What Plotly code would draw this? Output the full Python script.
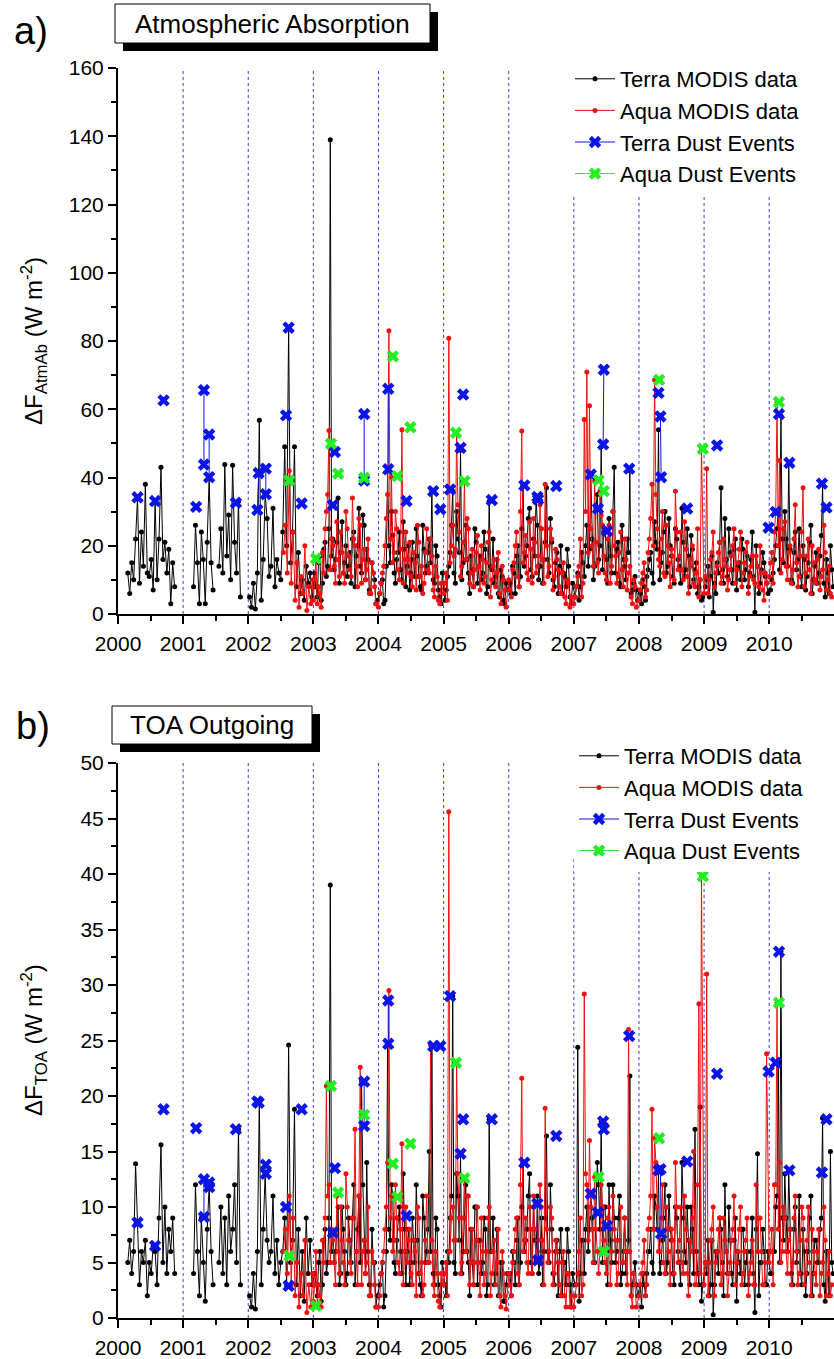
import plotly.graph_objects as go

# ---------------- DATA ----------------
# Terra observation dates (decimal years) for the early, gappy record
terra_early_dates = [
    [2000.15, 2000.18, 2000.21, 2000.24, 2000.27, 2000.30, 2000.33, 2000.36, 2000.39, 2000.42, 2000.45, 2000.48,
     2000.51, 2000.54, 2000.57, 2000.60, 2000.63, 2000.66, 2000.69, 2000.72, 2000.75, 2000.78, 2000.81, 2000.84, 2000.87],
    [2001.16, 2001.19, 2001.22, 2001.25, 2001.28, 2001.31, 2001.34, 2001.37, 2001.40, 2001.43, 2001.46],
    [2001.55, 2001.58, 2001.61, 2001.64, 2001.67, 2001.70, 2001.73, 2001.76, 2001.79, 2001.82, 2001.85, 2001.88],
    [2002.02, 2002.05, 2002.08, 2002.11, 2002.14, 2002.17, 2002.20, 2002.23, 2002.26, 2002.29, 2002.32, 2002.35,
     2002.38, 2002.41, 2002.44, 2002.47, 2002.50, 2002.53, 2002.56, 2002.59, 2002.62, 2002.65, 2002.68, 2002.71,
     2002.74, 2002.77, 2002.80, 2002.83, 2002.86, 2002.89, 2002.92, 2002.95, 2002.98],
]
later_years = [2003, 2004, 2005, 2006, 2007, 2008, 2009, 2010]
# sampling dates within each later year (fraction of year)
terra_day_offsets = [0.02, 0.06, 0.10, 0.14, 0.18, 0.22, 0.26, 0.30, 0.34, 0.38, 0.42, 0.46, 0.50,
                     0.54, 0.58, 0.62, 0.66, 0.70, 0.74, 0.78, 0.82, 0.86, 0.90, 0.94, 0.98]
terra_extra_offsets = [0.04, 0.08, 0.12, 0.16, 0.20, 0.24, 0.28, 0.32, 0.36, 0.40, 0.44, 0.48,
                       0.52, 0.56, 0.60, 0.64, 0.68, 0.72, 0.76, 0.80, 0.84, 0.88, 0.92, 0.96]
aqua_first_dates = [2002.54, 2002.57, 2002.60, 2002.63, 2002.66, 2002.69, 2002.72, 2002.75,
                    2002.78, 2002.81, 2002.84, 2002.87, 2002.90, 2002.93, 2002.96, 2002.99]
aqua_day_offsets = [0.00, 0.04, 0.08, 0.12, 0.16, 0.20, 0.24, 0.28, 0.32, 0.36, 0.40, 0.44, 0.48,
                    0.52, 0.56, 0.60, 0.64, 0.68, 0.72, 0.76, 0.80, 0.84, 0.88, 0.92, 0.96]
aqua_extra_offsets = [0.02, 0.06, 0.10, 0.14, 0.18, 0.22, 0.26, 0.30, 0.34, 0.38, 0.42, 0.46,
                      0.50, 0.54, 0.58, 0.62, 0.66, 0.70, 0.74, 0.78, 0.82, 0.86, 0.90, 0.94]

# Panel a: Atmospheric absorption (W m-2)
terra_atm = [
    [12, 6, 15, 10, 22, 34, 9, 24, 14, 38, 12, 11, 16, 7, 33, 10, 22, 43, 16, 21, 12, 19, 3, 15, 8],
    [8, 26, 15, 3, 24, 16, 3, 21, 40, 15, 7],
    [14, 25, 12, 43.8, 17, 29, 10, 43.6, 21, 12, 33, 5],
    [5, 2, 9, 1.5, 12, 56.8, 4, 16, 35, 28, 11, 14, 31, 8, 16, 12, 10, 24, 49, 20, 84, 15, 24, 49, 8, 18, 6, 10, 4, 14, 9, 12, 5],
    [12, 5, 17, 9, 21, 14, 139, 22, 16, 34, 18, 12, 20, 14, 9, 24, 17, 31, 12, 26, 19, 7, 15, 10, 4],
    [6, 10, 4, 42, 15, 23, 9, 18, 13, 27, 8, 20, 12, 16, 25, 11, 7, 19, 14, 22, 36, 9, 17, 5, 12],
    [4, 11, 18, 36, 9, 22, 48, 15, 26, 12, 17, 8, 21, 14, 10, 24, 6, 33, 13, 9, 16, 5, 11, 3, 7],
    [9, 14, 6, 20, 11, 37.7, 17, 28, 13, 22, 34, 10, 25, 16, 37, 12, 21, 8, 18, 14, 6, 11, 19, 5, 9],
    [5, 12, 8, 15, 20, 14, 41, 10, 31, 16, 49, 24, 16, 28, 12, 43, 19, 9, 26, 14, 22, 42, 7, 11, 4],
    [6, 10, 4, 13, 18, 9, 21, 54, 15, 24, 12, 28, 17, 9, 22, 14, 31, 11, 25, 8, 19, 13, 6, 10, 5],
    [8, 14, 11, 0.5, 6, 12, 37, 9, 16, 25, 13, 19, 7, 15, 22, 10, 17, 12, 24, 0.5, 14, 9, 18, 11, 6],
    [7, 12, 20, 30, 58, 15, 22, 44, 10, 18, 13, 25, 8, 16, 11, 21, 6, 14, 9, 17, 38, 5, 12, 20, 8],
]
terra_atm_extra = [
    [8, 15, 4, 19, 11, 25, 17, 13, 21, 9, 27, 15, 11, 18, 22, 8, 20, 14, 29, 10, 16, 6, 12, 3],
    [9, 3, 14, 20, 30, 12, 16, 24, 10, 19, 14, 7, 21, 11, 17, 8, 26, 12, 18, 15, 10, 20, 7, 3],
    [7, 14, 26, 12, 30, 18, 10, 21, 16, 6, 13, 25, 9, 17, 12, 19, 8, 14, 22, 11, 6, 13, 4, 9],
    [6, 12, 17, 8, 25, 14, 20, 31, 11, 17, 26, 14, 9, 21, 16, 28, 10, 15, 6, 20, 12, 8, 14, 3],
    [8, 4, 18, 11, 26, 19, 22, 14, 35, 20, 13, 25, 9, 17, 30, 12, 21, 8, 16, 10, 18, 6, 9, 7],
    [3, 8, 11, 16, 12, 27, 19, 10, 18, 30, 14, 20, 11, 25, 16, 9, 21, 13, 17, 23, 10, 15, 8, 4],
    [10, 5, 17, 9, 15, 21, 13, 28, 11, 18, 9, 22, 14, 10, 19, 13, 8, 16, 11, 20, 6, 13, 15, 9],
    [10, 16, 25, 13, 22, 30, 14, 19, 9, 24, 16, 11, 20, 7, 15, 26, 10, 18, 12, 23, 9, 16, 6, 13],
]
aqua_atm = [
    [18, 26, 12, 42, 9, 24, 4, 15, 2, 11, 6, 20, 1, 8, 3, 10],
    [4, 16, 8, 2, 12, 30, 53.8, 22, 14, 27, 11, 18, 9, 25, 13, 34, 20, 8, 26, 16, 10, 22, 6, 12, 3],
    [2, 9, 14, 28, 83, 40, 18, 25, 10, 54, 16, 12, 21, 8, 15, 26, 11, 6, 18, 13, 22, 7, 14, 4, 9],
    [6, 12, 80.8, 20, 17, 53, 24, 14, 39, 28, 9, 19, 13, 23, 7, 16, 11, 21, 5, 14, 8, 18, 3, 10, 2],
    [10, 5, 15, 24, 8, 53.6, 18, 12, 27, 9, 21, 14, 32, 16, 38, 11, 25, 7, 19, 13, 6, 15, 3, 9, 5],
    [3, 8, 14, 5, 57, 70.9, 61, 20, 39, 15, 36, 26, 12, 22, 9, 30, 17, 11, 24, 8, 16, 12, 5, 10, 2],
    [4, 9, 15, 7, 22, 38, 68.6, 25, 14, 30, 11, 20, 8, 17, 36, 13, 24, 10, 19, 6, 14, 9, 12, 5, 48.4],
    [6, 42.6, 10, 18, 8, 14, 21, 11, 16, 7, 13, 20, 9, 15, 24, 12, 18, 6, 14, 10, 17, 8, 12, 4, 9],
    [11, 18, 24, 62, 45, 16, 27, 10, 20, 13, 32, 8, 17, 37, 12, 22, 6, 15, 9, 19, 11, 26, 7, 14, 5],
]
aqua_atm_extra = [
    [10, 3, 6, 18, 25, 35, 13, 20, 9, 16, 24, 12, 30, 17, 11, 22, 14, 28, 9, 19, 13, 6, 15, 8],
    [6, 12, 20, 35, 22, 15, 30, 13, 19, 9, 24, 16, 11, 18, 7, 21, 14, 9, 25, 12, 17, 5, 11, 3],
    [9, 4, 15, 26, 19, 32, 11, 21, 16, 25, 12, 8, 18, 14, 20, 9, 15, 24, 10, 16, 12, 6, 14, 7],
    [7, 13, 20, 11, 30, 15, 23, 10, 19, 28, 12, 17, 25, 9, 20, 14, 22, 11, 16, 8, 12, 5, 10, 2],
    [5, 11, 22, 9, 30, 18, 25, 14, 21, 12, 29, 17, 10, 26, 14, 20, 9, 18, 13, 22, 7, 14, 3, 8],
    [7, 12, 5, 18, 28, 20, 35, 16, 22, 12, 26, 15, 19, 10, 24, 17, 13, 27, 11, 16, 20, 8, 25, 10],
    [11, 6, 16, 24, 12, 18, 9, 22, 14, 10, 17, 25, 13, 19, 8, 15, 21, 11, 17, 9, 14, 20, 7, 12],
    [15, 9, 30, 20, 12, 25, 14, 18, 9, 22, 15, 11, 24, 8, 17, 13, 20, 10, 16, 7, 13, 18, 10, 6],
]

# Panel b: TOA outgoing (W m-2)
terra_toa = [
    [5, 7, 4, 6, 13.9, 8.6, 3, 6, 5, 7, 2, 5, 4, 6.5, 6, 3, 9, 15.6, 5, 10, 4, 8, 6, 9, 4],
    [4, 12, 6, 2, 9, 5, 1.5, 8, 12, 6, 3],
    [5, 10, 4, 9, 3, 11, 6, 8, 12, 5, 17, 3],
    [2, 1, 4, 0.8, 6, 19.5, 3, 8, 13, 7, 5, 6, 11, 4, 7, 3, 5, 6, 9, 2.9, 24.6, 5, 7, 18.8, 3, 8, 2, 6, 1.5, 9, 4, 7, 3],
    [4, 2, 6, 3, 8, 5, 39, 7.7, 6, 10, 4, 8, 3, 9, 5, 12, 6, 11, 21.3, 7, 14, 3, 8, 5, 2],
    [3, 5, 2, 24.7, 7, 11, 4, 9, 6, 13, 3, 8, 5, 7, 12, 4, 2, 9, 6, 15, 24.5, 3, 8, 2, 5],
    [3, 6, 9, 29, 4, 11, 14.8, 6, 12, 5, 8, 3, 10, 7, 4, 9, 2, 17.9, 6, 3, 8, 2, 5, 1.5, 4],
    [4, 6, 3, 9, 5, 14, 7, 11, 5, 10, 5.2, 4, 9, 6, 16.4, 5, 8, 3, 7, 6, 2, 5, 8, 3, 4],
    [3, 24.4, 4, 7, 8, 6, 11.2, 5, 9.5, 12, 17.7, 10, 6, 12, 5, 9, 6, 11, 4, 9, 6, 21.8, 3, 5, 2],
    [3, 4, 2, 6, 8, 4, 10, 13.3, 5, 9, 4, 11, 7, 3, 9, 5, 14, 6, 10, 3, 8, 17, 4, 19, 3],
    [5, 7, 3, 0.3, 6, 4, 8, 2, 6, 10, 4, 7, 1.5, 5, 8, 3, 6, 4, 9, 0.5, 14.8, 5, 8, 3, 6],
    [4, 6, 10, 23, 33, 7, 9, 13.3, 4, 8, 5, 11, 3, 6, 4, 9, 2, 7, 5, 8, 18, 1.5, 6, 15, 4],
]
terra_toa_extra = [
    [3, 5, 1.5, 7, 4, 9, 6, 5, 8, 3, 10, 6, 4, 7, 9, 3, 8, 5, 12, 4, 6, 2, 5, 1],
    [4, 1, 6, 8, 12, 5, 7, 10, 4, 8, 6, 3, 9, 5, 7, 3, 11, 5, 8, 6, 4, 9, 3, 1],
    [2, 5, 11, 5, 13, 7, 4, 9, 6, 2, 5, 10, 3, 7, 5, 8, 3, 6, 9, 4, 2, 5, 1.5, 3],
    [2, 5, 7, 3, 10, 6, 8, 13, 4, 7, 11, 5, 3, 9, 6, 12, 4, 6, 2, 8, 5, 3, 6, 1],
    [3, 1.5, 7, 4, 10, 8, 9, 5, 14, 8, 5, 10, 3, 7, 12, 5, 9, 3, 6, 4, 7, 2, 4, 3],
    [1, 3, 4, 6, 5, 11, 8, 4, 7, 12, 5, 8, 4, 10, 6, 3, 9, 5, 7, 10, 4, 6, 3, 1.5],
    [4, 2, 7, 3, 6, 9, 5, 12, 4, 7, 3, 9, 6, 4, 8, 5, 3, 6, 4, 8, 2, 5, 6, 3],
    [4, 6, 11, 5, 9, 13, 6, 8, 3, 10, 6, 4, 8, 2, 6, 11, 4, 7, 5, 9, 3, 6, 2, 5],
]
aqua_toa = [
    [6, 8, 4, 11, 3, 9, 2, 5, 1, 4, 2, 7, 0.5, 3, 1, 4],
    [1.5, 6, 3, 1, 5, 20.9, 12, 8, 5, 11, 4, 7, 3, 10, 5, 9, 17, 3, 22.6, 6, 4, 10, 2, 5, 1],
    [1, 4, 6, 10, 29.5, 11, 7, 9, 4, 15.7, 6, 5, 8, 3, 6, 10, 4, 2, 7, 5, 24.6, 3, 6, 1.5, 4],
    [3, 5, 45.6, 9, 7, 23, 9, 5, 12.6, 11, 3, 8, 5, 10, 2, 6, 4, 9, 2, 6, 3, 8, 1, 4, 0.8],
    [4, 2, 6, 9, 3, 21.6, 7, 5, 10, 4, 8, 6, 12, 7, 18.9, 5, 10, 3, 7, 5, 2, 6, 1, 4, 2],
    [1, 3, 6, 2, 29.2, 12, 16, 8, 12.7, 6, 6.0, 10, 5, 9, 3, 11, 7, 4, 10, 5, 6, 26, 2, 4, 1],
    [2, 4, 7, 3, 9, 18.8, 16.2, 10, 6, 12, 4, 8, 3, 7, 14, 5, 10, 4, 8, 2, 6, 15, 3, 28.3, 39.8],
    [3, 31, 5, 8, 2, 6, 9, 4, 7, 2, 5, 8, 3, 6, 10, 4, 7, 2, 5, 3, 12, 9, 6, 3, 23.8],
    [5, 8, 12, 28.4, 14, 6, 9, 4, 8, 5, 11, 3, 7, 9, 4, 10, 2, 6, 3, 8, 4, 10, 2, 6, 3],
]
aqua_toa_extra = [
    [3, 1, 2, 7, 9, 11, 5, 7, 3, 6, 10, 5, 13, 7, 4, 9, 6, 11, 3, 7, 5, 2, 6, 3],
    [2, 5, 8, 14, 9, 6, 12, 5, 8, 3, 10, 7, 4, 7, 2, 9, 5, 3, 11, 5, 7, 2, 4, 1],
    [4, 2, 6, 10, 7, 13, 4, 9, 6, 11, 5, 3, 7, 5, 9, 3, 6, 10, 4, 7, 5, 2, 6, 2],
    [3, 5, 8, 4, 12, 6, 9, 4, 8, 11, 5, 7, 10, 3, 8, 6, 9, 4, 6, 3, 5, 2, 4, 1],
    [2, 4, 9, 3, 13, 7, 10, 5, 8, 4, 12, 7, 4, 10, 6, 8, 3, 7, 5, 9, 3, 6, 1, 3],
    [3, 5, 2, 8, 11, 8, 14, 6, 9, 5, 10, 6, 8, 4, 10, 7, 5, 11, 4, 7, 9, 3, 12, 4],
    [5, 2, 7, 10, 5, 8, 3, 9, 6, 4, 7, 11, 5, 8, 3, 6, 9, 4, 7, 3, 6, 9, 3, 5],
    [6, 3, 12, 8, 5, 10, 6, 7, 3, 9, 6, 4, 10, 3, 7, 5, 8, 4, 6, 2, 5, 7, 4, 2],
]

# Dust events
terra_event_dates = [2000.30, 2000.57, 2000.70, 2001.20, 2001.32, 2001.32, 2001.40, 2001.40, 2001.81,
                     2002.14, 2002.16, 2002.27, 2002.27, 2002.58, 2002.62, 2002.82, 2003.30, 2003.33,
                     2003.78, 2003.78, 2004.15, 2004.15, 2004.43, 2004.84, 2004.95, 2005.10, 2005.26,
                     2005.30, 2005.74, 2006.24, 2006.44, 2006.45, 2006.73, 2007.26, 2007.37, 2007.45,
                     2007.46, 2007.51, 2007.85, 2008.30, 2008.33, 2008.34, 2008.74, 2009.20, 2009.99,
                     2010.10, 2010.15, 2010.31, 2010.81, 2010.88]
terra_event_atm = [34.2, 33.1, 62.6, 31.4, 65.6, 43.8, 52.6, 40.1, 32.6,
                   30.5, 41.3, 42.6, 35.1, 58.2, 83.9, 32.4, 31.9, 47.5,
                   58.6, 39.1, 66.0, 42.4, 33.1, 36.0, 30.7, 36.5, 48.7,
                   64.3, 33.4, 37.7, 34.3, 33.6, 37.5, 40.9, 30.9, 49.7,
                   71.6, 24.3, 42.6, 64.8, 57.9, 40.1, 30.9, 49.4, 25.3,
                   29.9, 58.6, 44.3, 38.2, 31.2]
terra_event_toa = [8.6, 6.5, 18.8, 17.1, 9.1, 12.5, 11.8, 12.2, 17.0,
                   19.5, 19.4, 13.0, 13.8, 10.0, 2.9, 18.8, 7.7, 13.5,
                   21.3, 17.3, 28.6, 24.7, 9.2, 24.5, 24.5, 29.0, 14.8,
                   17.9, 17.9, 14.0, 10.3, 5.2, 16.4, 11.2, 9.5, 17.7,
                   17.0, 8.3, 25.4, 13.3, 13.4, 7.6, 14.1, 22.0, 22.2,
                   23.0, 33.0, 13.3, 13.1, 17.9]
aqua_event_dates = [2002.63, 2003.04, 2003.27, 2003.38, 2003.78, 2004.22, 2004.29, 2004.49,
                    2005.19, 2005.32, 2007.38, 2007.46, 2008.31, 2008.98, 2010.15]
aqua_event_atm = [39.1, 16.2, 49.9, 41.1, 39.9, 75.5, 40.4, 54.7, 53.1, 38.9, 39.2, 36.0, 68.6, 48.4, 62.1]
aqua_event_toa = [5.6, 1.1, 20.9, 11.3, 18.3, 13.9, 10.9, 15.7, 23.0, 12.6, 12.7, 6.0, 16.2, 39.8, 28.4]

year_lines = [2001, 2002, 2003, 2004, 2005, 2006, 2007, 2008, 2009, 2010]


# ---------------- BUILD SERIES ----------------
def merge_years(main_vals, main_offsets, extra_vals, extra_offsets):
    xs, ys = [], []
    for yr, mv, ev in zip(later_years, main_vals, extra_vals):
        assert len(mv) == len(main_offsets), (yr, len(mv))
        assert len(ev) == len(extra_offsets), (yr, len(ev))
        pts = [(round(yr + o, 3), v) for o, v in zip(main_offsets, mv)]
        pts += [(round(yr + o, 3), v) for o, v in zip(extra_offsets, ev)]
        pts.sort()
        xs += [p[0] for p in pts]
        ys += [p[1] for p in pts]
    return xs, ys


def build_terra(values, extra):
    xs, ys = [], []
    for i, (d, v) in enumerate(zip(terra_early_dates, values[:4])):
        assert len(d) == len(v), (i, len(d), len(v))
        xs += list(d)
        ys += list(v)
        if i < 3:  # seasonal gaps in the early Terra record
            xs.append(None)
            ys.append(None)
    lx, ly = merge_years(values[4:], terra_day_offsets, extra, terra_extra_offsets)
    return xs + lx, ys + ly


def build_aqua(values, extra):
    assert len(values[0]) == len(aqua_first_dates)
    lx, ly = merge_years(values[1:], aqua_day_offsets, extra, aqua_extra_offsets)
    return list(aqua_first_dates) + lx, list(values[0]) + ly


def events(dates, vals, gap=0.02):
    xs, ys = [], []
    prev = None
    for d, v in zip(dates, vals):
        if prev is not None and d - prev > gap:
            xs.append(None)
            ys.append(None)
        xs.append(d)
        ys.append(v)
        prev = d
    return xs, ys


FONT = "Liberation Sans, Arial, sans-serif"
W, H = 834, 1359
TERRA_C, AQUA_C, TEV_C, AEV_C = "black", "#ee1111", "#0a14e6", "#22ee22"

fig = go.Figure()

panels = [
    dict(xa="x", ya="y", legend="legend", t=terra_atm, te_x=terra_atm_extra, a=aqua_atm, ae_x=aqua_atm_extra,
         te=terra_event_atm, ae=aqua_event_atm),
    dict(xa="x2", ya="y2", legend="legend2", t=terra_toa, te_x=terra_toa_extra, a=aqua_toa, ae_x=aqua_toa_extra,
         te=terra_event_toa, ae=aqua_event_toa),
]
for p in panels:
    tx, ty = build_terra(p["t"], p["te_x"])
    ax_, ay_ = build_aqua(p["a"], p["ae_x"])
    tex, tey = events(terra_event_dates, p["te"])
    aex, aey = events(aqua_event_dates, p["ae"])
    common = dict(xaxis=p["xa"], yaxis=p["ya"], legend=p["legend"], connectgaps=False)
    fig.add_trace(go.Scatter(x=tx, y=ty, mode="lines+markers", name="Terra MODIS data",
                             line=dict(color=TERRA_C, width=1), marker=dict(color=TERRA_C, size=5), **common))
    fig.add_trace(go.Scatter(x=ax_, y=ay_, mode="lines+markers", name="Aqua MODIS data",
                             line=dict(color=AQUA_C, width=1), marker=dict(color=AQUA_C, size=5), **common))
    fig.add_trace(go.Scatter(x=tex, y=tey, mode="lines+markers", name="Terra Dust Events",
                             line=dict(color=TEV_C, width=1),
                             marker=dict(color=TEV_C, size=11, symbol="x"), **common))
    fig.add_trace(go.Scatter(x=aex, y=aey, mode="lines+markers", name="Aqua Dust Events",
                             line=dict(color=AEV_C, width=1),
                             marker=dict(color=AEV_C, size=11, symbol="x"), **common))


def px(x):
    return x / W


def py(y):
    return 1 - y / H


axis_common = dict(showline=True, linecolor="black", linewidth=2, ticks="outside", ticklen=8,
                   tickwidth=2, tickcolor="black", showgrid=False, zeroline=False, automargin=False,
                   tickfont=dict(family=FONT, size=21, color="black"))

xcommon = dict(axis_common, range=[2000, 2010.995], tickmode="linear", tick0=2000, dtick=1,
               minor=dict(tick0=2000, dtick=0.5, ticks="outside", ticklen=5, tickwidth=2, tickcolor="black"),
               domain=[px(118), 1.0], ticklabelstandoff=2)

fig.update_layout(
    width=W, height=H, margin=dict(l=0, r=0, t=0, b=0, autoexpand=False),
    paper_bgcolor="white", plot_bgcolor="white",
    font=dict(family=FONT, color="black"),
    xaxis=dict(xcommon, anchor="y"),
    xaxis2=dict(xcommon, anchor="y2"),
    yaxis=dict(axis_common, anchor="x", range=[0, 160], dtick=20, domain=[py(614), py(68)],
               minor=dict(dtick=10, ticks="outside", ticklen=5, tickwidth=2, tickcolor="black")),
    yaxis2=dict(axis_common, anchor="x2", range=[0, 50], dtick=5, domain=[py(1318), py(763)],
                minor=dict(dtick=2.5, ticks="outside", ticklen=5, tickwidth=2, tickcolor="black")),
    legend=dict(x=px(570), y=py(58), xanchor="left", yanchor="top", bgcolor="white",
                font=dict(family=FONT, size=22, color="black"), tracegroupgap=0, itemwidth=40),
    legend2=dict(x=px(574), y=py(735), xanchor="left", yanchor="top", bgcolor="white",
                 font=dict(family=FONT, size=22, color="black"), tracegroupgap=0, itemwidth=40),
)

shapes = []
for yr in year_lines:
    top_a = 160 if yr < 2007 else 125
    top_b = 50 if yr < 2007 else 41.5
    shapes.append(dict(type="line", xref="x", yref="y", x0=yr, x1=yr, y0=0, y1=top_a,
                       line=dict(color="#3c3cc8", width=1, dash="dot"), layer="below"))
    shapes.append(dict(type="line", xref="x2", yref="y2", x0=yr, x1=yr, y0=0, y1=top_b,
                       line=dict(color="#3c3cc8", width=1, dash="dot"), layer="below"))

boxes = [(115, 4, 430, 43, "Atmospheric Absorption"), (112, 706, 312, 744, "TOA Outgoing")]
annotations = []
for (x0, y0, x1, y1, txt) in boxes:
    shapes.append(dict(type="rect", xref="paper", yref="paper", x0=px(x0 + 8), x1=px(x1 + 8),
                       y0=py(y1 + 8), y1=py(y0 + 8), fillcolor="black", line=dict(width=0)))
    shapes.append(dict(type="rect", xref="paper", yref="paper", x0=px(x0), x1=px(x1),
                       y0=py(y1), y1=py(y0), fillcolor="white", line=dict(color="black", width=1)))
    annotations.append(dict(xref="paper", yref="paper", x=px((x0 + x1) / 2), y=py((y0 + y1) / 2),
                            text=txt, showarrow=False, xanchor="center", yanchor="middle",
                            font=dict(family=FONT, size=26, color="black")))

annotations += [
    dict(xref="paper", yref="paper", x=px(12), y=py(31), text="a)", showarrow=False,
         xanchor="left", yanchor="middle", font=dict(family=FONT, size=38, color="black")),
    dict(xref="paper", yref="paper", x=px(14), y=py(726), text="b)", showarrow=False,
         xanchor="left", yanchor="middle", font=dict(family=FONT, size=38, color="black")),
    dict(xref="paper", yref="paper", x=px(34), y=py(341), text="ΔF<sub>AtmAb</sub> (W m<sup>-2</sup>)",
         showarrow=False, textangle=-90, xanchor="center", yanchor="middle",
         font=dict(family=FONT, size=24, color="black")),
    dict(xref="paper", yref="paper", x=px(34), y=py(1040), text="ΔF<sub>TOA</sub> (W m<sup>-2</sup>)",
         showarrow=False, textangle=-90, xanchor="center", yanchor="middle",
         font=dict(family=FONT, size=24, color="black")),
]

fig.update_layout(shapes=shapes, annotations=annotations)
fig.write_html("out.html", config={"displayModeBar": False},
               post_script="document.body.style.margin='0px';")
